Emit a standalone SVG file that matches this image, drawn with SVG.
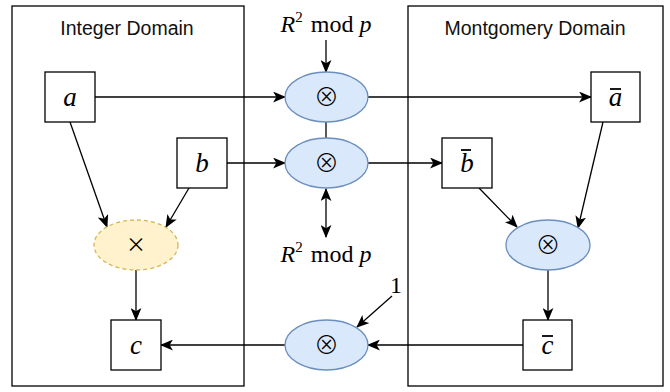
<svg xmlns="http://www.w3.org/2000/svg" width="670" height="392" viewBox="0 0 670 392">
<style>
.box{fill:#fff;stroke:#000;stroke-width:1.3}
.cont{fill:none;stroke:#000;stroke-width:1.3}
.ell{fill:#dae8fc;stroke:#6c8ebf;stroke-width:1.3}
.yel{fill:#fff2cc;stroke:#d6b656;stroke-width:1.3;stroke-dasharray:4 3}
.m{font-family:"Liberation Serif",serif;font-style:italic;font-size:27px;text-anchor:middle}
.r{font-family:"Liberation Serif",serif;font-size:24px}
.op{font-family:"Noto Sans CJK SC","DejaVu Sans",sans-serif;font-size:25px;font-weight:300;text-anchor:middle}
.x{font-family:"Noto Sans CJK SC","DejaVu Sans",sans-serif;font-size:20px;text-anchor:middle}
.title{font-family:"Liberation Sans",Arial,sans-serif;font-size:19.5px;text-anchor:middle;fill:#111}
.c{fill:none;stroke:#000;stroke-width:1.3}
.bar{stroke:#000;stroke-width:1.8}
</style>
<defs>
<marker id="ah" viewBox="0 0 12 10" refX="11" refY="5" markerWidth="13" markerHeight="11" markerUnits="userSpaceOnUse" orient="auto-start-reverse">
<path d="M0,0 L12,5 L0,10 L3,5 Z" fill="#000"/>
</marker>
</defs>
<g id="integer-domain"><rect class="cont" x="12" y="6" width="232" height="380"/><text class="title" x="127" y="35">Integer Domain</text></g>
<g id="montgomery-domain"><rect class="cont" x="408" y="6" width="255" height="380"/><text class="title" x="535" y="35">Montgomery Domain</text></g>
<g id="connectors">
<line class="c" x1="95" y1="97" x2="285" y2="97" marker-end="url(#ah)"/>
<line class="c" x1="368" y1="97" x2="591" y2="97" marker-end="url(#ah)"/>
<line class="c" x1="227" y1="163" x2="285" y2="163" marker-end="url(#ah)"/>
<line class="c" x1="368" y1="163" x2="442" y2="163" marker-end="url(#ah)"/>
<line class="c" x1="326" y1="122" x2="326" y2="138"/>
<line class="c" x1="326" y1="40" x2="326" y2="72" marker-end="url(#ah)"/>
<line class="c" x1="326" y1="189" x2="326" y2="237" marker-start="url(#ah)" marker-end="url(#ah)"/>
<line class="c" x1="392" y1="296" x2="357" y2="327" marker-end="url(#ah)"/>
<line class="c" x1="523" y1="345" x2="368" y2="345" marker-end="url(#ah)"/>
<line class="c" x1="285" y1="345" x2="161" y2="345" marker-end="url(#ah)"/>
<line class="c" x1="70" y1="122" x2="107" y2="227" marker-end="url(#ah)"/>
<line class="c" x1="189" y1="188" x2="166" y2="227" marker-end="url(#ah)"/>
<line class="c" x1="136" y1="270" x2="136" y2="320" marker-end="url(#ah)"/>
<line class="c" x1="603" y1="122" x2="578" y2="228" marker-end="url(#ah)"/>
<line class="c" x1="479" y1="188" x2="517" y2="227" marker-end="url(#ah)"/>
<line class="c" x1="548" y1="270" x2="548" y2="320" marker-end="url(#ah)"/>
</g>
<g id="a"><rect class="box" x="45" y="72" width="50" height="50"/><text class="m" x="70" y="106">a</text></g>
<g id="b"><rect class="box" x="177" y="138" width="50" height="50"/><text class="m" x="202" y="172">b</text></g>
<g id="mul"><ellipse class="yel" cx="136" cy="245" rx="42" ry="25"/><text class="x" x="136" y="252">×</text></g>
<g id="c"><rect class="box" x="111" y="320" width="50" height="50"/><text class="m" x="136" y="354">c</text></g>
<g id="mm1"><ellipse class="ell" cx="326.5" cy="97" rx="41.5" ry="25"/><text class="op" x="326.5" y="106">⊗</text></g>
<g id="mm2"><ellipse class="ell" cx="326.5" cy="163" rx="41.5" ry="25"/><text class="op" x="326.5" y="172">⊗</text></g>
<g id="mm3"><ellipse class="ell" cx="326.5" cy="345" rx="41.5" ry="25"/><text class="op" x="326.5" y="354">⊗</text></g>
<g id="abar"><rect class="box" x="591" y="72" width="49" height="50"/><text class="m" x="615.5" y="106">a</text><line class="bar" x1="610" y1="89" x2="621" y2="89"/></g>
<g id="bbar"><rect class="box" x="442" y="138" width="50" height="50"/><text class="m" x="467" y="172">b</text><line class="bar" x1="461" y1="150" x2="471" y2="150"/></g>
<g id="mm4"><ellipse class="ell" cx="548" cy="245" rx="42" ry="25"/><text class="op" x="548" y="254">⊗</text></g>
<g id="cbar"><rect class="box" x="523" y="320" width="49" height="50"/><text class="m" x="547.5" y="354">c</text><line class="bar" x1="542" y1="336" x2="553" y2="336"/></g>
<g id="label-top"><text class="r" x="326" y="32" text-anchor="middle"><tspan font-style="italic">R</tspan><tspan font-size="15" dy="-10">2</tspan><tspan dy="10" dx="8">mod</tspan><tspan font-style="italic" dx="6">p</tspan></text></g>
<g id="label-bottom"><text class="r" x="326" y="262" text-anchor="middle"><tspan font-style="italic">R</tspan><tspan font-size="15" dy="-10">2</tspan><tspan dy="10" dx="8">mod</tspan><tspan font-style="italic" dx="6">p</tspan></text></g>
<g id="label-one"><text class="r" x="396" y="293" text-anchor="middle">1</text></g>
</svg>
